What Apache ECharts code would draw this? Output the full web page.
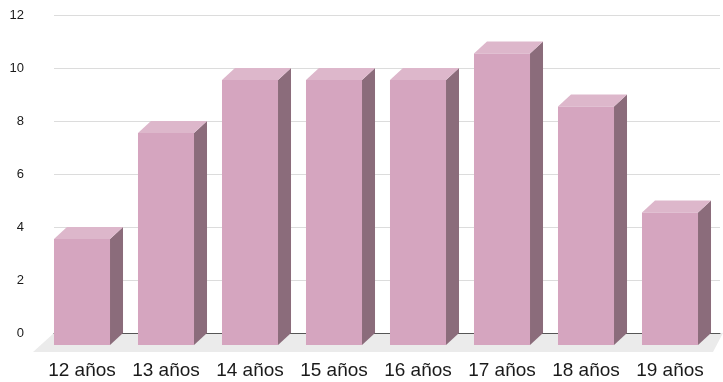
<!DOCTYPE html>
<html>
<head>
<meta charset="utf-8">
<script src="https://cdn.jsdelivr.net/npm/echarts@6/dist/echarts.min.js"></script>
<style>html,body{margin:0;padding:0;background:#fff}#c{width:723px;height:382px}</style>
</head>
<body>
<div id="c"></div>
<script>
var categories = ['12 años','13 años','14 años','15 años','16 años','17 años','18 años','19 años'];
var values = [4, 8, 10, 10, 10, 11, 9, 5];
var yTicks = [0, 2, 4, 6, 8, 10, 12];

var DX = 13, DY = 12;
var FRONT = '#d5a5bf', TOP = '#ddb7cb', SIDE = '#8b6c7b';

var chart = echarts.init(document.getElementById('c'), null, {renderer: 'canvas'});

function renderBar(params, api) {
  var i = api.value(0), v = api.value(1);
  var top = api.coord([i, v]);
  var base = api.coord([i, 0]);
  var w = api.size([1, 0])[0] * 0.667;
  var x0 = top[0] - w / 2, x1 = top[0] + w / 2;
  var yt = top[1], yb = base[1];
  return {
    type: 'group',
    children: [
      {type: 'polygon', shape: {points: [[x1, yt], [x1 + DX, yt - DY], [x1 + DX, yb - DY], [x1, yb]]}, style: {fill: SIDE}},
      {type: 'polygon', shape: {points: [[x0, yt], [x0 + DX, yt - DY], [x1 + DX, yt - DY], [x1, yt]]}, style: {fill: TOP}},
      {type: 'rect', shape: {x: x0, y: yt, width: w, height: yb - yt}, style: {fill: FRONT}}
    ]
  };
}

chart.setOption({
  animation: false,
  textStyle: {fontFamily: 'Liberation Sans, Arial, sans-serif'},
  graphic: [{
    type: 'polygon', z: -10, silent: true,
    shape: {points: [[54, 333], [723, 333], [713, 352], [33, 352]]},
    style: {fill: '#ebebeb'}
  }],
  grid: [
    {left: 40, right: 11, top: 27, bottom: 37},
    {left: 54, right: 3, top: 15, bottom: 49}
  ],
  xAxis: [
    {type: 'category', gridIndex: 0, data: categories,
     axisLine: {show: false}, axisTick: {show: false},
     axisLabel: {margin: 16, fontSize: 19, color: '#1a1a1a', interval: 0}},
    {type: 'category', gridIndex: 1, data: categories,
     axisLine: {show: true, lineStyle: {color: '#555', width: 1}}, axisTick: {show: false},
     axisLabel: {show: false}}
  ],
  yAxis: [
    {type: 'value', gridIndex: 0, min: 0, max: 12, interval: 2, show: false, splitLine: {show: false}},
    {type: 'value', gridIndex: 1, min: yTicks[0], max: yTicks[yTicks.length - 1], interval: 2,
     axisLine: {show: false}, axisTick: {show: false},
     axisLabel: {margin: 30, fontSize: 13, color: '#1a1a1a'},
     splitLine: {lineStyle: {color: '#dcdcdc', width: 1}}}
  ],
  series: [{
    type: 'custom', xAxisIndex: 0, yAxisIndex: 0,
    renderItem: renderBar,
    data: values.map(function (v, i) { return [i, v]; })
  }]
});
</script>
</body>
</html>
